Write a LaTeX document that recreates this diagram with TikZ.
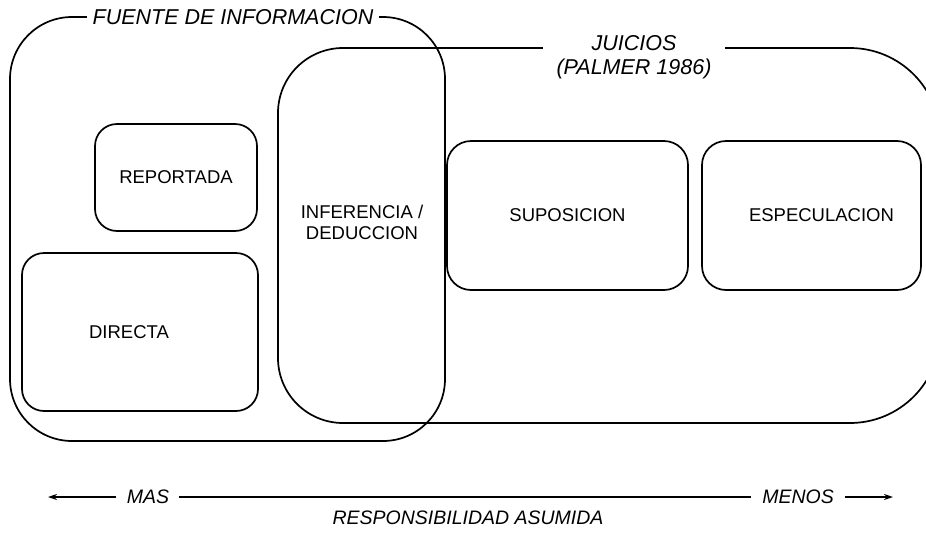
\documentclass[tikz,border=0pt]{standalone}
\usepackage{fontspec}
\setmainfont{Liberation Sans}
\usepackage{tikz}
\usetikzlibrary{arrows.meta, positioning}

\begin{document}
\begin{tikzpicture}[x=1pt, y=-1pt, line width=1.7pt,
    region/.style={draw, line width=1.7pt},
    title/.style={fill=white, inner xsep=6pt, inner ysep=1pt, font=\fontsize{21.5}{24}\selectfont\itshape, align=center},
    kind/.style={draw, rounded corners=22pt, inner sep=0pt, font=\fontsize{18.5}{21}\selectfont, align=center},
    scaletxt/.style={inner sep=0pt, font=\fontsize{19.5}{22}\selectfont\itshape},
    tip/.style={-{Stealth[length=9pt, width=6pt]}},]

\useasboundingbox (0,0) rectangle (926,533);
\clip (0,0) rectangle (926,533);

% Source of information
\draw[region, rounded corners=62pt] (10,17) rectangle (445,441);
\node[title] (fuente) at (233,17) {FUENTE DE INFORMACION};

% Judgements (right side runs off the page)
\draw[region] (278,240) [rounded corners=65pt] -- (278,48) -- (610,48)
  [rounded corners=90pt] -- (940,48) -- (940,423) -- (610,423)
  [rounded corners=65pt] -- (278,423) -- cycle;
\node[title, inner xsep=14pt, anchor=north] (juicios) at (634,34) {JUICIOS\\(PALMER 1986)};

% Kinds of evidence
\node[kind, minimum width=162pt, minimum height=107pt] (reportada) at (176,177.5) {REPORTADA};
\node[kind, minimum width=236pt, minimum height=158pt] (directa) at (140,332) {DIRECTA\hspace*{22pt}};
\node[kind, draw=none, rounded corners=0pt] (inferencia) at (362,222) {INFERENCIA /\\DEDUCCION};
\node[kind, rounded corners=24pt, minimum width=241pt, minimum height=149pt] (suposicion) at (567.5,215.5) {SUPOSICION};
\node[kind, rounded corners=24pt, minimum width=219pt, minimum height=149pt] (especulacion) at (811.5,215.5) {\hspace*{20pt}ESPECULACION};

% Responsibility scale
\node[scaletxt] (mas) at (148,497) {MAS};
\node[scaletxt] (menos) at (798,497) {MENOS};
\node[scaletxt] (resp) at (468,518) {RESPONSIBILIDAD ASUMIDA};
\coordinate (mas_end) at (48,497);
\coordinate (menos_end) at (893,497);
\draw[tip] ([xshift=-10pt]mas.west) -- (mas_end);
\draw ([xshift=9pt]mas.east) -- ([xshift=-10pt]menos.west);
\draw[tip] ([xshift=10pt]menos.east) -- (menos_end);

\end{tikzpicture}
\end{document}
